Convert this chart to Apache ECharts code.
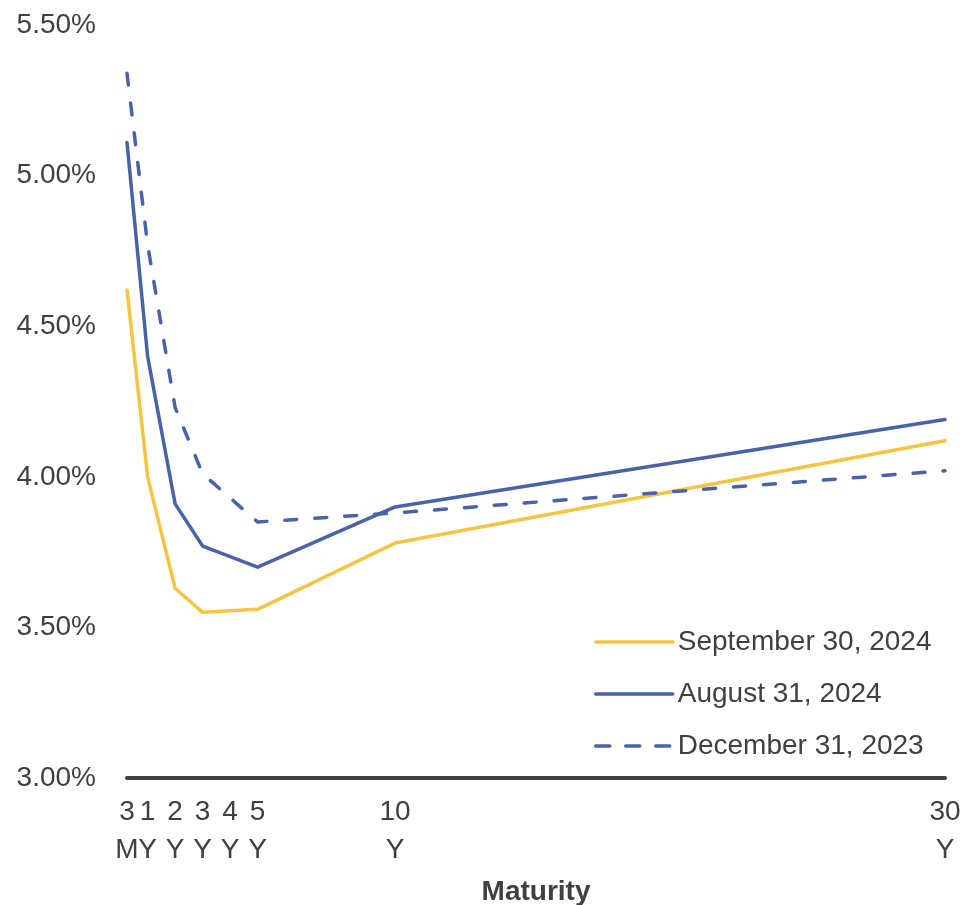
<!DOCTYPE html>
<html>
<head>
<meta charset="utf-8">
<script src="https://cdn.jsdelivr.net/npm/echarts@6/dist/echarts.min.js"></script>
<style>
html,body{margin:0;padding:0;background:#fff;}
#chart{width:963px;height:905px;}
</style>
</head>
<body>
<div id="chart"></div>
<script>
// Maturities in years
var maturityYears = [0.25, 1, 2, 3, 5, 10, 30];
var tickValues = [0.25, 1, 2, 3, 4, 5, 10, 30];
var tickLabels = ['3\nM', '1\nY', '2\nY', '3\nY', '4\nY', '5\nY', '10\nY', '30\nY'];
var seriesNames = ['September 30, 2024', 'August 31, 2024', 'December 31, 2023'];
var sep2024 = [4.62, 4.00, 3.63, 3.55, 3.56, 3.78, 4.12];
var aug2024 = [5.11, 4.40, 3.91, 3.77, 3.70, 3.90, 4.19];
var dec2023 = [5.34, 4.77, 4.23, 4.01, 3.85, 3.88, 4.02];

function pairs(vals) {
  return maturityYears.map(function (m, i) { return [m, vals[i]]; });
}

var txt = '#404040';
var font = 'Liberation Sans, Arial, sans-serif';
var yellow = '#F4C443';
var blue = '#4A62A8';

function labelFor(v) {
  for (var i = 0; i < tickValues.length; i++) {
    if (Math.abs(tickValues[i] - v) < 1e-6) return tickLabels[i];
  }
  return '';
}

var labelBase = {
  showMinLabel: true,
  showMaxLabel: true,
  hideOverlap: false,
  fontSize: 28,
  lineHeight: 38,
  color: txt,
  margin: 15,
  fontFamily: font,
  formatter: labelFor
};

var chart = echarts.init(document.getElementById('chart'), null, {renderer: 'canvas'});
chart.setOption({
  animation: false,
  backgroundColor: '#fff',
  textStyle: {fontFamily: font},
  grid: {left: 127, right: 18, top: 25, bottom: 127, containLabel: false, outerBoundsMode: 'none'},
  legend: {
    orient: 'vertical',
    left: 594,
    top: 628,
    padding: 0,
    itemWidth: 77,
    itemHeight: 14,
    itemGap: 24,
    itemStyle: {opacity: 0},
    lineStyle: {width: 3.5},
    textStyle: {fontSize: 28, color: txt, fontFamily: font},
    data: [
      {name: seriesNames[0]},
      {name: seriesNames[1]},
      {name: seriesNames[2], lineStyle: {type: [14, 16], cap: 'round'}}
    ]
  },
  xAxis: [
    {
      type: 'value',
      min: 0.25,
      max: 30,
      name: 'Maturity',
      nameLocation: 'middle',
      nameGap: 100,
      nameTextStyle: {fontSize: 28, fontWeight: 'bold', color: txt, fontFamily: font},
      axisLine: {show: true, lineStyle: {color: txt, width: 4}},
      axisTick: {show: false},
      splitLine: {show: false},
      axisLabel: Object.assign({customValues: tickValues.slice(1)}, labelBase)
    },
    {
      type: 'value',
      min: 0.25,
      max: 30,
      position: 'bottom',
      axisLine: {show: false},
      axisTick: {show: false},
      splitLine: {show: false},
      axisLabel: Object.assign({customValues: tickValues.slice(0, 1)}, labelBase)
    }
  ],
  yAxis: {
    type: 'value',
    min: 3,
    max: 5.5,
    interval: 0.5,
    axisLine: {show: false},
    axisTick: {show: false},
    splitLine: {show: false},
    axisLabel: {
      fontSize: 28,
      color: txt,
      margin: 31,
      fontFamily: font,
      formatter: function (v) { return v.toFixed(2) + '%'; }
    }
  },
  series: [
    {
      name: seriesNames[0], type: 'line', data: pairs(sep2024), symbol: 'none',
      lineStyle: {color: yellow, width: 3.5, join: 'round', cap: 'round'},
      itemStyle: {color: yellow}
    },
    {
      name: seriesNames[1], type: 'line', data: pairs(aug2024), symbol: 'none',
      lineStyle: {color: blue, width: 3.5, join: 'round', cap: 'round'},
      itemStyle: {color: blue}
    },
    {
      name: seriesNames[2], type: 'line', data: pairs(dec2023), symbol: 'none',
      lineStyle: {color: blue, width: 3.5, type: [12, 18], join: 'round', cap: 'round'},
      itemStyle: {color: blue}
    }
  ]
});
</script>
</body>
</html>
